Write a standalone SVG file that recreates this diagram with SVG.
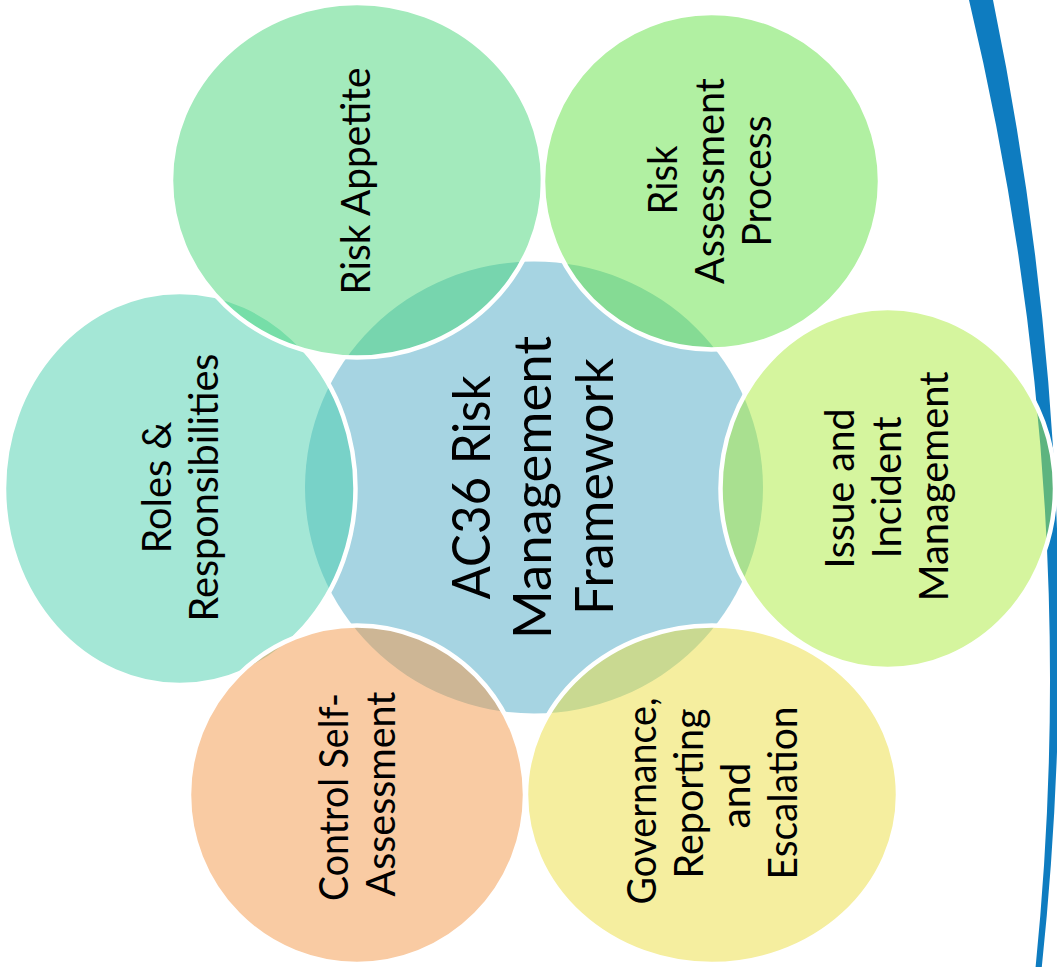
<svg xmlns="http://www.w3.org/2000/svg" width="1057" height="967" viewBox="0 0 1057 967">
<style>
.t{font-family:Lato,"Liberation Sans",sans-serif;font-size:40px;fill:#000;text-anchor:middle}
.c{font-size:53px}
.n{stroke:#fff;stroke-width:4.5;fill-opacity:0.5}
</style>
<rect width="1057" height="967" fill="#fff"/>
<path id="swoosh" d="M969,0 L993,0 Q1092.7,483.5 1041.8,967 L1035.6,967 Q1084.2,483.5 969,0 Z" fill="#0E7CC0"/>
<g id="center">
  <ellipse cx="534" cy="487.5" rx="229" ry="226" fill="#A6D4E2"/>
  <g transform="translate(534,487.5) rotate(-90)">
    <text class="t c" x="0" y="-44" textLength="224" lengthAdjust="spacingAndGlyphs">AC36 Risk</text>
    <text class="t c" x="0" y="17" textLength="303" lengthAdjust="spacingAndGlyphs">Management</text>
    <text class="t c" x="1" y="79" textLength="257" lengthAdjust="spacingAndGlyphs">Framework</text>
  </g>
</g>
<g id="roles">
  <ellipse class="n" cx="179.75" cy="488.5" rx="175.75" ry="196.5" fill="#49CFAD"/>
  <g transform="translate(180,487.5) rotate(-90)">
    <text class="t" x="0" y="-9.5" textLength="132" lengthAdjust="spacingAndGlyphs">Roles &amp;</text>
    <text class="t" x="0" y="37.5" textLength="268" lengthAdjust="spacingAndGlyphs">Responsibilities</text>
  </g>
</g>
<g id="appetite">
  <ellipse class="n" cx="357" cy="180.25" rx="186" ry="177.25" fill="#47D579"/>
  <g transform="translate(357,181) rotate(-90)">
    <text class="t" x="0" y="13" textLength="227" lengthAdjust="spacingAndGlyphs">Risk Appetite</text>
  </g>
</g>
<g id="assessment">
  <ellipse class="n" cx="711.5" cy="181.25" rx="168.5" ry="168.25" fill="#63E145"/>
  <g transform="translate(710,181) rotate(-90)">
    <text class="t" x="1" y="-33" textLength="69" lengthAdjust="spacingAndGlyphs">Risk</text>
    <text class="t" x="0" y="14" textLength="206" lengthAdjust="spacingAndGlyphs">Assessment</text>
    <text class="t" x="0" y="61" textLength="131" lengthAdjust="spacingAndGlyphs">Process</text>
  </g>
</g>
<g id="issue">
  <ellipse class="n" cx="887.75" cy="488.5" rx="167.25" ry="180.5" fill="#ABEB3D"/>
  <g transform="translate(886.5,488) rotate(-90)">
    <text class="t" x="-0.5" y="-33" textLength="160" lengthAdjust="spacingAndGlyphs">Issue and</text>
    <text class="t" x="0.5" y="14" textLength="142" lengthAdjust="spacingAndGlyphs">Incident</text>
    <text class="t" x="1.5" y="61" textLength="230" lengthAdjust="spacingAndGlyphs">Management</text>
  </g>
</g>
<g id="governance">
  <ellipse class="n" cx="712" cy="794.75" rx="186" ry="169.25" fill="#EBDD3F"/>
  <g transform="translate(712,794) rotate(-90)">
    <text class="t" x="-7" y="-56.5" textLength="207" lengthAdjust="spacingAndGlyphs">Governance,</text>
    <text class="t" x="0.5" y="-9.5" textLength="170" lengthAdjust="spacingAndGlyphs">Reporting</text>
    <text class="t" x="-1.5" y="37.5" textLength="66" lengthAdjust="spacingAndGlyphs">and</text>
    <text class="t" x="1" y="84.5" textLength="173" lengthAdjust="spacingAndGlyphs">Escalation</text>
  </g>
</g>
<g id="control">
  <ellipse class="n" cx="357" cy="794.75" rx="168" ry="169.25" fill="#F39747"/>
  <g transform="translate(357,794) rotate(-90)">
    <text class="t" x="-3" y="-9.5" textLength="208" lengthAdjust="spacingAndGlyphs">Control Self-</text>
    <text class="t" x="0" y="37.5" textLength="205" lengthAdjust="spacingAndGlyphs">Assessment</text>
  </g>
</g>
</svg>
